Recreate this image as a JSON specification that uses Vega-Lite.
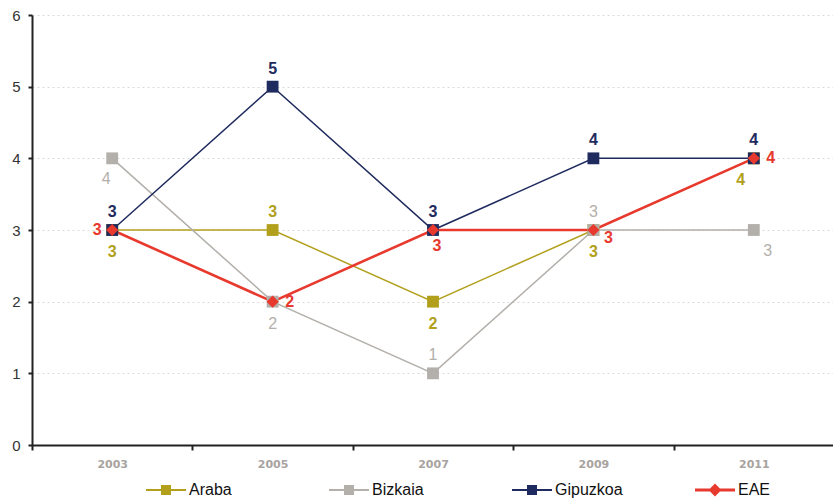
{
  "$schema": "https://vega.github.io/schema/vega-lite/v6.json",
  "autosize": "none",
  "width": 802,
  "height": 430,
  "padding": {"left": 32, "top": 15, "right": 0, "bottom": 59},
  "background": "white",
  "config": {
    "view": {"stroke": null},
    "font": "Liberation Sans"
  },
  "data": {
    "values": [
      {"year": "2003", "series": "Araba", "value": 3},
      {"year": "2005", "series": "Araba", "value": 3},
      {"year": "2007", "series": "Araba", "value": 2},
      {"year": "2009", "series": "Araba", "value": 3},
      {"year": "2011", "series": "Araba", "value": 4},
      {"year": "2003", "series": "Bizkaia", "value": 4},
      {"year": "2005", "series": "Bizkaia", "value": 2},
      {"year": "2007", "series": "Bizkaia", "value": 1},
      {"year": "2009", "series": "Bizkaia", "value": 3},
      {"year": "2011", "series": "Bizkaia", "value": 3},
      {"year": "2003", "series": "Gipuzkoa", "value": 3},
      {"year": "2005", "series": "Gipuzkoa", "value": 5},
      {"year": "2007", "series": "Gipuzkoa", "value": 3},
      {"year": "2009", "series": "Gipuzkoa", "value": 4},
      {"year": "2011", "series": "Gipuzkoa", "value": 4},
      {"year": "2003", "series": "EAE", "value": 3},
      {"year": "2005", "series": "EAE", "value": 2},
      {"year": "2007", "series": "EAE", "value": 3},
      {"year": "2009", "series": "EAE", "value": 3},
      {"year": "2011", "series": "EAE", "value": 4}
    ]
  },
  "encoding": {
    "x": {
      "field": "year", "type": "ordinal", "bandPosition": 0.5,
      "scale": {"type": "band", "paddingInner": 0, "paddingOuter": 0},
      "axis": {
        "title": null, "labelAngle": 0, "tickBand": "extent",
        "domainColor": "#222", "domainWidth": 2, "tickColor": "#222", "tickWidth": 2, "tickSize": 5,
        "labelColor": "#a8a39f", "labelFont": "DejaVu Sans", "labelFontSize": 11, "labelFontWeight": "bold",
        "labelPadding": 8, "grid": false
      }
    },
    "y": {
      "field": "value", "type": "quantitative",
      "scale": {"domain": [0, 6]},
      "axis": {
        "title": null, "values": [0, 1, 2, 3, 4, 5, 6],
        "domainColor": "#222", "domainWidth": 2, "tickColor": "#222", "tickWidth": 2, "tickSize": 4,
        "labelColor": "#333", "labelFontSize": 15, "labelPadding": 8,
        "grid": true, "gridColor": "#dadada", "gridDash": [2, 3], "gridWidth": 1
      }
    },
    "color": {
      "field": "series", "type": "nominal",
      "scale": {"domain": ["Araba", "Bizkaia", "Gipuzkoa", "EAE"], "range": ["#b2a01d", "#b3afab", "#1f2b5e", "#e8392e"]}
    }
  },
  "layer": [
    {
      "mark": {"type": "line"},
      "encoding": {
        "color": {
          "field": "series", "type": "nominal",
          "scale": {"domain": ["Araba", "Bizkaia", "Gipuzkoa", "EAE"], "range": ["#b2a01d", "#b3afab", "#1f2b5e", "#e8392e"]},
          "legend": {
            "title": null, "orient": "none", "direction": "horizontal", "columns": 4,
            "legendX": 114, "legendY": 455, "padding": 0,
            "gridAlign": "all", "columnPadding": 72,
            "symbolSize": 1600, "symbolStrokeWidth": 0,
            "labelFontSize": 16, "labelColor": "#111", "labelOffset": 3,
            "encode": {
              "symbols": {
                "update": {
                  "shape": {"signal": "datum.value === 'EAE' ? 'M-1,-0.07H1V0.07H-1Z M0,-0.32L0.32,0L0,0.32L-0.32,0Z' : 'M-1,-0.05H1V0.05H-1Z M-0.25,-0.25H0.25V0.25H-0.25Z'"},
                  "fill": {"scale": "color", "field": "value"},
                  "strokeWidth": {"value": 0},
                  "opacity": {"value": 1}
                }
              }
            }
          }
        },
        "strokeWidth": {"condition": {"test": "datum.series === 'EAE'", "value": 2.6}, "value": 1.5}
      }
    },
    {
      "mark": {"type": "point", "filled": true, "opacity": 1},
      "encoding": {
        "shape": {"condition": {"test": "datum.series === 'EAE'", "value": "diamond"}, "value": "square"},
        "size": {"condition": {"test": "datum.series === 'EAE'", "value": 150}, "value": 140}
      }
    },
    {
      "transform": [{"filter": "datum.series === 'Gipuzkoa' || (datum.series === 'Araba' && datum.year === '2005')"}],
      "mark": {"type": "text", "dy": -18, "fontSize": 16, "fontWeight": "bold", "baseline": "middle"},
      "encoding": {"text": {"field": "value", "type": "quantitative"}}
    },
    {
      "transform": [{"filter": "datum.series === 'Bizkaia' && (datum.year === '2007' || datum.year === '2009')"}],
      "mark": {"type": "text", "dy": -18, "fontSize": 16, "baseline": "middle"},
      "encoding": {"text": {"field": "value", "type": "quantitative"}}
    },
    {
      "transform": [{"filter": "datum.series === 'Araba' && datum.year !== '2005' && datum.year !== '2011'"}],
      "mark": {"type": "text", "dy": 22, "fontSize": 16, "fontWeight": "bold", "baseline": "middle"},
      "encoding": {"text": {"field": "value", "type": "quantitative"}}
    },
    {
      "transform": [{"filter": "datum.series === 'Bizkaia' && datum.year === '2005'"}],
      "mark": {"type": "text", "dy": 22, "fontSize": 16, "baseline": "middle"},
      "encoding": {"text": {"field": "value", "type": "quantitative"}}
    },
    {
      "transform": [{"filter": "datum.series === 'Bizkaia' && datum.year === '2003'"}],
      "mark": {"type": "text", "dx": -6, "dy": 21, "fontSize": 16, "baseline": "middle"},
      "encoding": {"text": {"field": "value", "type": "quantitative"}}
    },
    {
      "transform": [{"filter": "datum.series === 'Araba' && datum.year === '2011'"}],
      "mark": {"type": "text", "dx": -13, "dy": 22, "fontSize": 16, "fontWeight": "bold", "baseline": "middle"},
      "encoding": {"text": {"field": "value", "type": "quantitative"}}
    },
    {
      "transform": [{"filter": "datum.series === 'Bizkaia' && datum.year === '2011'"}],
      "mark": {"type": "text", "dx": 14, "dy": 21, "fontSize": 16, "baseline": "middle"},
      "encoding": {"text": {"field": "value", "type": "quantitative"}}
    },
    {
      "transform": [{"filter": "datum.series === 'EAE' && datum.year === '2003'"}],
      "mark": {"type": "text", "dx": -15, "dy": 0, "fontSize": 16, "fontWeight": "bold", "baseline": "middle"},
      "encoding": {"text": {"field": "value", "type": "quantitative"}}
    },
    {
      "transform": [{"filter": "datum.series === 'EAE' && (datum.year === '2005' || datum.year === '2011')"}],
      "mark": {"type": "text", "dx": 17, "dy": 0, "fontSize": 16, "fontWeight": "bold", "baseline": "middle"},
      "encoding": {"text": {"field": "value", "type": "quantitative"}}
    },
    {
      "transform": [{"filter": "datum.series === 'EAE' && datum.year === '2009'"}],
      "mark": {"type": "text", "dx": 15, "dy": 8, "fontSize": 16, "fontWeight": "bold", "baseline": "middle"},
      "encoding": {"text": {"field": "value", "type": "quantitative"}}
    },
    {
      "transform": [{"filter": "datum.series === 'EAE' && datum.year === '2007'"}],
      "mark": {"type": "text", "dx": 4, "dy": 16, "fontSize": 16, "fontWeight": "bold", "baseline": "middle"},
      "encoding": {"text": {"field": "value", "type": "quantitative"}}
    }
  ]
}
